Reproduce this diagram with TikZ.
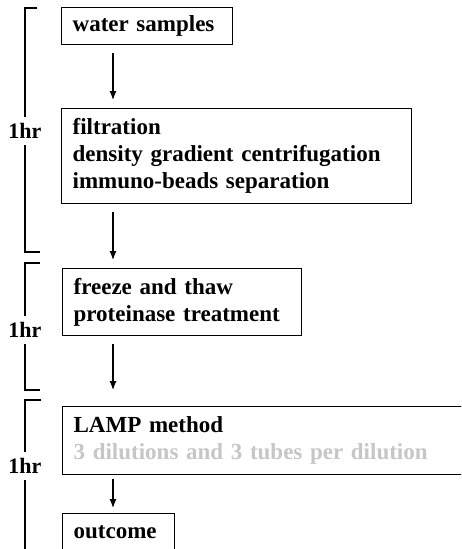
\documentclass[tikz,border=0pt]{standalone}
\usepackage{fontspec}
\setmainfont{Liberation Serif}
\usetikzlibrary{positioning}
\usetikzlibrary{calc}
\usetikzlibrary{arrows.meta}

\tikzset{
  stepbox/.style={draw, line width=1.3pt, anchor=north west, align=left,
    inner xsep=11pt, inner ysep=0pt,
    font=\bfseries\fontsize{23}{27}\selectfont},
  hrlabel/.style={inner xsep=1pt, inner ysep=6pt,
    font=\bfseries\fontsize{22}{24}\selectfont},
  bracket/.style={line width=1.2pt},
  flow/.style={line width=1.2pt, shorten <=8pt, shorten >=8pt},
}

\begin{document}
\begin{tikzpicture}[x=1pt,y=-1pt]
\useasboundingbox (0,0) rectangle (461,549);
\clip (0,0) rectangle (461,549);

% steps
\coordinate (spine) at (113,0);
\node[stepbox, text width=149pt, minimum height=37pt](water) at (61,7){\mbox{water samples}};
\node[stepbox, text width=328pt, minimum height=95pt](filt) at (61,108){filtration\\\mbox{density gradient centrifugation}\\\mbox{immuno-beads separation}};
\node[stepbox, text width=217pt, minimum height=67pt](freeze) at (62,268){freeze and thaw\\\mbox{proteinase treatment}};
\node[stepbox, text width=388pt, minimum height=68pt](lamp) at (62,406){LAMP method\\\textcolor{gray!45}{\mbox{3 dilutions and 3 tubes per dilution}}};
\node[stepbox, text width=90pt, minimum height=38pt](outcome) at (62,513){outcome};

\path
(water.south -| spine) edge[-{Latex[length=9pt,width=7pt]},flow]node{} (filt.north -| spine)
(filt.south -| spine) edge[-{Latex[length=9pt,width=7pt]},flow]node{} (freeze.north -| spine)
(freeze.south -| spine) edge[-{Latex[length=9pt,width=7pt]},flow,shorten >=16pt]node{} (lamp.north -| spine)
(lamp.south -| spine) edge[-{Latex[length=9pt,width=7pt]},flow,shorten <=4pt,shorten >=5pt]node{} (outcome.north -| spine);

% time brackets
\node[hrlabel](hrA) at (25,131){1hr};
\node[hrlabel](hrB) at (25,330){1hr};
\node[hrlabel](hrC) at (25,466){1hr};
\coordinate (topA) at (37,8);
\coordinate (botA) at (40,252);
\coordinate (topB) at (40,263);
\coordinate (botB) at (40,390);
\coordinate (topC) at (41,400);
\coordinate (endC) at (26,560);

\draw[bracket] (topA) -| (hrA.north);
\draw[bracket] (botA) -| (hrA.south);
\draw[bracket] (topB) -| (hrB.north);
\draw[bracket] (botB) -| (hrB.south);
\draw[bracket] (topC) -| (hrC.north);
\draw[bracket] (hrC.south) -- (hrC.south |- endC);
\end{tikzpicture}
\end{document}
